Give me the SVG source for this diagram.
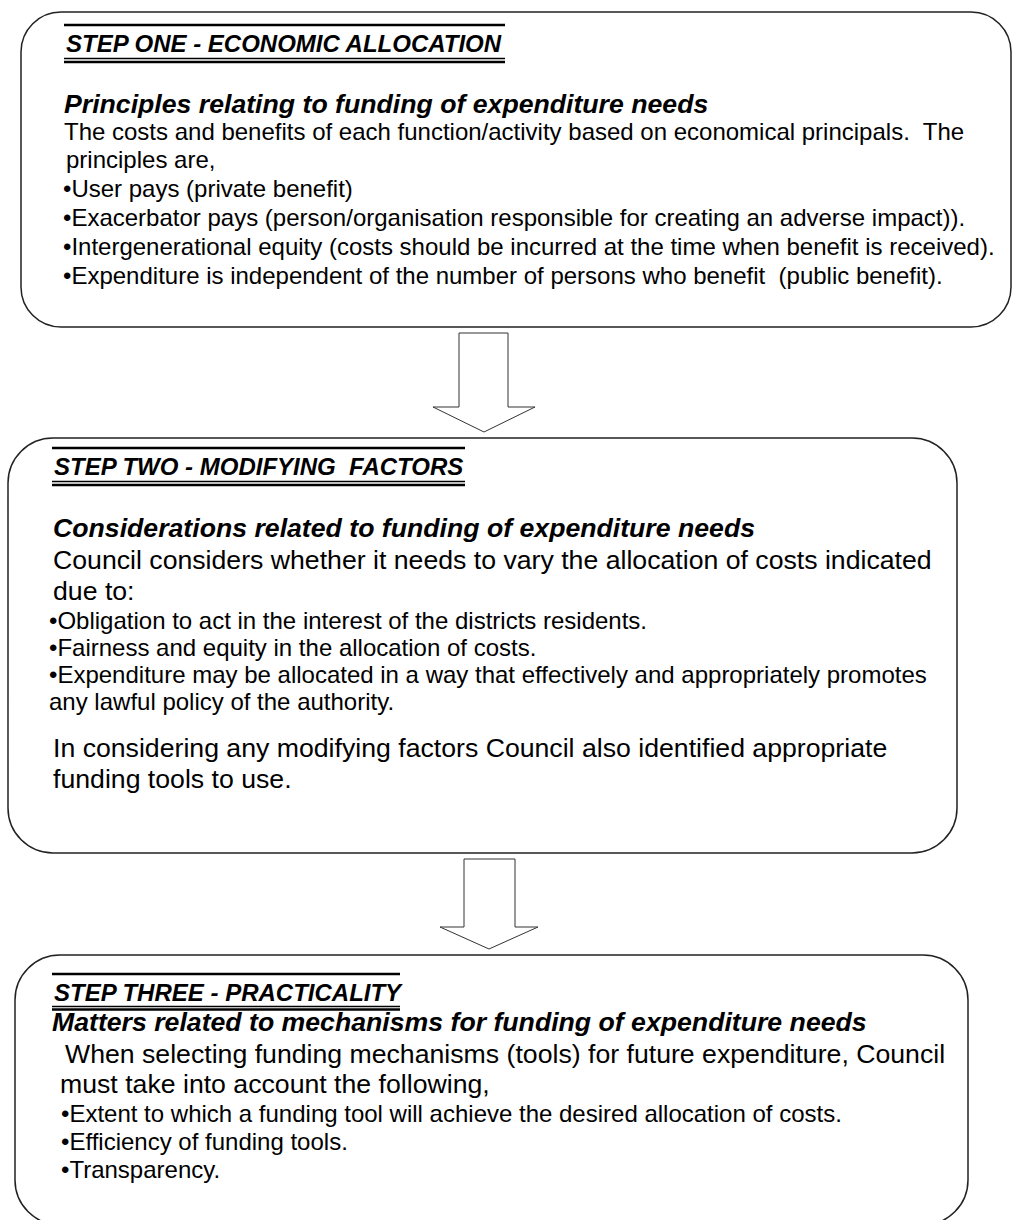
<svg xmlns="http://www.w3.org/2000/svg" width="1013" height="1220" viewBox="0 0 1013 1220">
<style>
.box{fill:#fff;stroke:#222;stroke-width:1.5}
.arrow{fill:#fff;stroke:#333;stroke-width:1}
.hl{stroke:#000;stroke-width:2.6}
.hl2{stroke:#000;stroke-width:1.3}
text{font-family:"Liberation Sans",Arial,sans-serif;fill:#000;white-space:pre}
.hd{font-size:24px;font-weight:bold;font-style:italic}
.sub{font-size:26.67px;font-weight:bold;font-style:italic}
.big{font-size:26.67px}
.sm{font-size:24px}
</style>
<rect width="1013" height="1220" fill="#fff"/>
<g id="connectors">
<path class="arrow" d="M459,333 H508 V407 H535 L484,432 L433,407 H459 Z"/>
<path class="arrow" d="M464,859 H515 V927 H538 L489,949 L440,927 H464 Z"/>
</g>
<g id="step-one">
<rect class="box" x="21" y="12" width="990" height="315" rx="40" ry="40"/>
<line class="hl" x1="64" y1="25" x2="505" y2="25"/>
<line class="hl2" x1="64" y1="58.5" x2="505" y2="58.5"/>
<line class="hl" x1="64" y1="62" x2="505" y2="62"/>
<text class="hd" x="66" y="52">STEP ONE - ECONOMIC ALLOCATION</text>
<text class="sub" x="64" y="113">Principles relating to funding of expenditure needs</text>
<text class="sm" x="64" y="140" xml:space="preserve">The costs and benefits of each function/activity based on economical principals.  The</text>
<text class="sm" x="66" y="168">principles are,</text>
<text class="sm" x="63" y="197">•User pays (private benefit)</text>
<text class="sm" x="63" y="226">•Exacerbator pays (person/organisation responsible for creating an adverse impact)).</text>
<text class="sm" x="63" y="255">•Intergenerational equity (costs should be incurred at the time when benefit is received).</text>
<text class="sm" x="63" y="284" xml:space="preserve">•Expenditure is independent of the number of persons who benefit  (public benefit).</text>
</g>
<g id="step-two">
<rect class="box" x="8" y="438" width="949" height="415" rx="45" ry="45"/>
<line class="hl" x1="52" y1="448" x2="465" y2="448"/>
<line class="hl2" x1="52" y1="481.5" x2="465" y2="481.5"/>
<line class="hl" x1="52" y1="485" x2="465" y2="485"/>
<text class="hd" x="54" y="475" xml:space="preserve">STEP TWO - MODIFYING  FACTORS</text>
<text class="sub" x="53" y="537">Considerations related to funding of expenditure needs</text>
<text class="big" x="53" y="569">Council considers whether it needs to vary the allocation of costs indicated</text>
<text class="big" x="53" y="600">due to:</text>
<text class="sm" x="49" y="629">•Obligation to act in the interest of the districts residents.</text>
<text class="sm" x="49" y="656">•Fairness and equity in the allocation of costs.</text>
<text class="sm" x="49" y="683">•Expenditure may be allocated in a way that effectively and appropriately promotes</text>
<text class="sm" x="49" y="710">any lawful policy of the authority.</text>
<text class="big" x="53" y="757">In considering any modifying factors Council also identified appropriate</text>
<text class="big" x="53" y="788">funding tools to use.</text>
</g>
<g id="step-three">
<rect class="box" x="15" y="955" width="953" height="270" rx="45" ry="45"/>
<line class="hl" x1="52" y1="974" x2="400" y2="974"/>
<line class="hl2" x1="52" y1="1006.5" x2="400" y2="1006.5"/>
<line class="hl" x1="52" y1="1009.5" x2="400" y2="1009.5"/>
<text class="hd" x="54" y="1001">STEP THREE - PRACTICALITY</text>
<text class="sub" x="52" y="1031">Matters related to mechanisms for funding of expenditure needs</text>
<text class="big" x="65" y="1063">When selecting funding mechanisms (tools) for future expenditure, Council</text>
<text class="big" x="60" y="1093">must take into account the following,</text>
<text class="sm" x="61" y="1122">•Extent to which a funding tool will achieve the desired allocation of costs.</text>
<text class="sm" x="61" y="1150">•Efficiency of funding tools.</text>
<text class="sm" x="61" y="1178">•Transparency.</text>
</g>
</svg>
